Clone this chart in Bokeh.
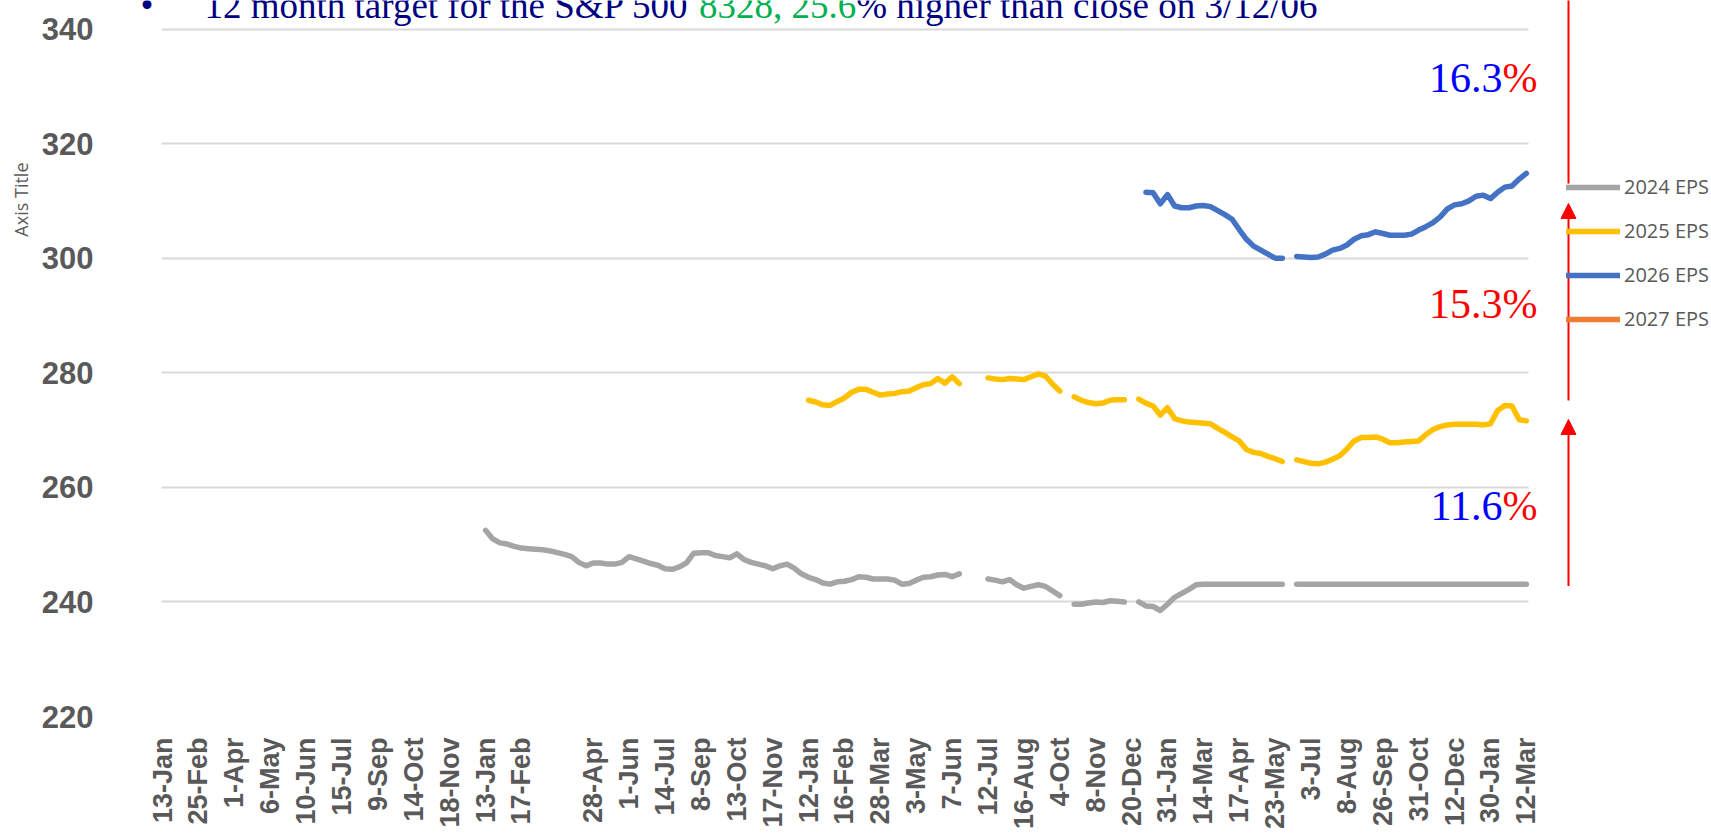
import math
from bokeh.plotting import figure
from bokeh.models import (Range1d, FixedTicker, Label, Arrow, NormalHead, Title,
                          Legend, LegendItem, ColumnDataSource, BoxAnnotation)
from bokeh.embed import file_html
from bokeh.resources import INLINE

nan = float("nan")

# ---------------- data ----------------
# category axis: one label every 5 data points (weeks); one label slot is blank
tick_labels = ["13-Jan", "25-Feb", "1-Apr", "6-May", "10-Jun", "15-Jul", "9-Sep",
               "14-Oct", "18-Nov", "13-Jan", "17-Feb", "", "28-Apr", "1-Jun",
               "14-Jul", "8-Sep", "13-Oct", "17-Nov", "12-Jan", "16-Feb", "28-Mar",
               "3-May", "7-Jun", "12-Jul", "16-Aug", "4-Oct", "8-Nov", "20-Dec",
               "31-Jan", "14-Mar", "17-Apr", "23-May", "3-Jul", "8-Aug", "26-Sep",
               "31-Oct", "12-Dec", "30-Jan", "12-Mar"]
points_per_label = 5

y_ticks = [220, 240, 260, 280, 300, 320, 340]

eps2024_start = 45
eps2024 = [252.5, 251.0, 250.3, 250.1, 249.7, 249.4, 249.3, 249.2, 249.1, 248.9,
           248.6, 248.3, 247.9, 246.9, 246.3, 246.8, 246.8, 246.6, 246.6, 246.9,
           247.9, 247.5, 247.1, 246.7, 246.4, 245.8, 245.7, 246.1, 246.8, 248.5,
           248.6, 248.6, 248.1, 247.9, 247.7, 248.4, 247.4, 246.9, 246.6, 246.3,
           245.8, 246.3, 246.6, 245.9, 244.9, 244.3, 243.9, 243.3, 243.1, 243.5,
           243.6, 243.9, 244.4, 244.3, 244.0, 244.0, 244.0, 243.8, 243.1, 243.2,
           243.8, 244.3, 244.4, 244.7, 244.8, 244.4, 244.9, nan, nan, nan,
           244.0, 243.8, 243.5, 243.9, 243.0, 242.4, 242.7, 243.0, 242.7, 241.9,
           241.1, nan, 239.6, 239.6, 239.8, 240.0, 239.9, 240.2, 240.1, 240.0,
           nan, 240.0, 239.3, 239.2, 238.5, 239.6, 240.8, 241.5, 242.2, 243.0,
           243.1, 243.1, 243.1, 243.1, 243.1, 243.1, 243.1, 243.1, 243.1, 243.1,
           243.1, 243.1, nan, 243.1, 243.1, 243.1, 243.1, 243.1, 243.1, 243.1,
           243.1, 243.1, 243.1, 243.1, 243.1, 243.1, 243.1, 243.1, 243.1, 243.1,
           243.1, 243.1, 243.1, 243.1, 243.1, 243.1, 243.1, 243.1, 243.1, 243.1,
           243.1, 243.1, 243.1, 243.1, 243.1, 243.1]

eps2025_start = 90
eps2025 = [275.2, 274.9, 274.4, 274.3, 275.0, 275.6, 276.6, 277.1, 277.1, 276.6,
           276.1, 276.3, 276.4, 276.7, 276.8, 277.4, 277.9, 278.1, 279.0, 278.2,
           279.3, 278.1, nan, nan, nan, 279.1, 278.9, 278.8, 279.0, 278.9,
           278.8, 279.3, 279.8, 279.4, 278.0, 276.8, nan, 275.8, 275.2, 274.8,
           274.6, 274.7, 275.2, 275.3, 275.3, nan, 275.4, 274.7, 274.2, 272.6,
           273.9, 272.0, 271.6, 271.4, 271.3, 271.2, 271.1, 270.3, 269.6, 268.8,
           268.1, 266.6, 266.1, 265.9, 265.4, 265.0, 264.5, nan, 264.8, 264.5,
           264.2, 264.1, 264.4, 264.9, 265.5, 266.7, 268.1, 268.7, 268.7, 268.8,
           268.4, 267.8, 267.8, 267.9, 268.0, 268.1, 269.2, 270.1, 270.6, 270.9,
           271.0, 271.0, 271.0, 271.0, 270.9, 271.1, 273.4, 274.3, 274.2, 271.8,
           271.6]

eps2026_start = 137
eps2026 = [311.5, 311.4, 309.5, 311.1, 309.1, 308.8, 308.8, 309.1, 309.2, 309.0,
           308.3, 307.6, 306.8, 305.0, 303.3, 302.1, 301.4, 300.7, 300.0, 300.0,
           nan, 300.3, 300.2, 300.1, 300.2, 300.7, 301.4, 301.7, 302.3, 303.3,
           303.9, 304.1, 304.6, 304.3, 304.0, 304.0, 304.0, 304.2, 304.9, 305.5,
           306.2, 307.2, 308.6, 309.3, 309.5, 310.0, 310.8, 311.0, 310.4, 311.5,
           312.4, 312.6, 313.8, 314.8]

eps2027_start = 190
eps2027 = [nan]            # no 2027 estimates plotted yet

series_names = ["2024 EPS", "2025 EPS", "2026 EPS", "2027 EPS"]
series_colors = ["#a5a5a5", "#ffc000", "#4472c4", "#ed7d31"]

growth_numbers = ["16.3", "15.3", "11.6"]
growth_number_colors = ["#0000ff", "#ff0000", "#0000ff"]

title_pieces = ["\u2022", "12 month target for the S&P 500 ", "8328, 25.6",
                "% higher than close on 3/12/06"]
title_colors = ["#000080", "#000080", "#00b050", "#000080"]

# ---------------- layout (page pixels) ----------------
W, H = 1711, 836
frame_left, frame_bottom = 120, 716
data_left, data_right, data_top = 161, 1528, 28.5
n_points = (len(tick_labels) - 1) * points_per_label
x0, x1 = -0.15, n_points + 0.3
kx = (data_right - data_left) / (x1 - x0)
y0, y1 = 220, 340
ky = (frame_bottom - data_top) / (y1 - y0)


def sx(px):
    return px - frame_left


def sy(py):
    return frame_bottom - py


p = figure(width=W, height=H,
           x_range=Range1d(x0 - (data_left - frame_left) / kx, x1 + (W - data_right) / kx),
           y_range=Range1d(y0, y1 + data_top / ky),
           output_backend="svg", toolbar_location=None,
           min_border_left=frame_left, min_border_right=0,
           min_border_top=0, min_border_bottom=H - frame_bottom)
p.outline_line_color = None
p.background_fill_color = "white"
p.border_fill_color = "white"

p.xgrid.visible = False
p.ygrid.grid_line_color = "#d9d9d9"
p.ygrid.grid_line_width = 2
# gridlines only span the category axis
p.add_layout(BoxAnnotation(left=x1, fill_color="white", fill_alpha=1.0,
                           line_alpha=0, level="underlay"))
p.add_layout(BoxAnnotation(right=x0, fill_color="white", fill_alpha=1.0,
                           line_alpha=0, level="underlay"))

renderers = []
for name, start, vals, col in zip(series_names,
                                  [eps2024_start, eps2025_start, eps2026_start, eps2027_start],
                                  [eps2024, eps2025, eps2026, eps2027], series_colors):
    xs = list(range(start, start + len(vals)))
    src = ColumnDataSource(dict(x=xs, y=vals))
    r = p.line("x", "y", source=src, line_color=col, line_width=5.5,
               line_cap="round", line_join="round")
    renderers.append(r)

# axes
ticks = [i * points_per_label for i, t in enumerate(tick_labels) if t]
p.xaxis.ticker = FixedTicker(ticks=ticks)
p.xaxis.major_label_overrides = {i * points_per_label: t for i, t in enumerate(tick_labels) if t}
p.xaxis.major_label_orientation = math.pi / 2
p.xaxis.major_label_text_font = "Liberation Sans"
p.xaxis.major_label_text_font_style = "bold"
p.xaxis.major_label_text_font_size = "27px"
p.xaxis.major_label_text_color = "#595959"
p.xaxis.major_label_standoff = 21
p.xaxis.major_tick_out = 0
p.xaxis.major_tick_in = 0
p.xaxis.axis_line_color = None
p.xaxis.major_tick_line_color = None
p.xaxis.minor_tick_line_color = None

p.yaxis.ticker = FixedTicker(ticks=y_ticks)
p.yaxis.major_label_text_font = "Liberation Sans"
p.yaxis.major_label_text_font_style = "bold"
p.yaxis.major_label_text_font_size = "31px"
p.yaxis.major_label_text_color = "#595959"
p.yaxis.major_label_standoff = frame_left - 93
p.yaxis.major_tick_out = 0
p.yaxis.major_tick_in = 0
p.yaxis.axis_line_color = None
p.yaxis.major_tick_line_color = None
p.yaxis.minor_tick_line_color = None

# axis title (left panel, near the top like the original)
p.add_layout(Title(text="Axis Title", align="right", offset=162, standoff=12,
                   text_font="Open Sans", text_font_size="18px",
                   text_font_style="normal", text_color="#595959"), "left")

# legend
legend = Legend(items=[LegendItem(label=n, renderers=[r]) for n, r in zip(series_names, renderers)],
                location=(sx(1566), sy(332)), orientation="vertical", padding=0, margin=0,
                spacing=17, label_height=20, glyph_height=20, glyph_width=54,
                label_standoff=4, border_line_alpha=0, background_fill_alpha=0,
                label_text_font="Open Sans", label_text_font_size="20px",
                label_text_color="#595959", label_text_baseline="middle")
p.add_layout(legend)

# text baseline correction observed for Label with alphabetic baseline
def base(py, size):
    return sy(py) + 0.39 * size

# title line (partly cut off at the top)
title_px = [140, 204, 698.4, 855.7]
for txt, col, xx in zip(title_pieces, title_colors, title_px):
    p.add_layout(Label(x=sx(xx), y=base(19.6, 37), x_units="screen", y_units="screen",
                       text=txt, text_font="Liberation Serif", text_font_size="37px",
                       text_color=col, text_baseline="alphabetic"))

# growth percentages
growth_py = [94, 320, 522]
for num, col, yy in zip(growth_numbers, growth_number_colors, growth_py):
    p.add_layout(Label(x=sx(1502), y=base(yy, 42), x_units="screen", y_units="screen",
                       text=num, text_align="right", text_font="Liberation Serif",
                       text_font_size="42px", text_color=col, text_baseline="alphabetic"))
    p.add_layout(Label(x=sx(1537), y=base(yy, 42), x_units="screen", y_units="screen",
                       text="%", text_align="right", text_font="Liberation Serif",
                       text_font_size="42px", text_color="#ff0000", text_baseline="alphabetic"))

# red arrows
ax = sx(1568)
p.add_layout(Arrow(end=None, x_start=ax, y_start=sy(183), x_end=ax, y_end=sy(-20),
                   start_units="screen", end_units="screen", line_color="#ff0000", line_width=2))
p.add_layout(Arrow(end=NormalHead(size=15, fill_color="#ff0000", line_color="#ff0000"),
                   x_start=ax, y_start=sy(400), x_end=ax, y_end=sy(203),
                   start_units="screen", end_units="screen", line_color="#ff0000", line_width=2))
p.add_layout(Arrow(end=NormalHead(size=15, fill_color="#ff0000", line_color="#ff0000"),
                   x_start=ax, y_start=sy(585.5), x_end=ax, y_end=sy(419),
                   start_units="screen", end_units="screen", line_color="#ff0000", line_width=2))

open("out.html", "w").write(file_html(p, INLINE))
